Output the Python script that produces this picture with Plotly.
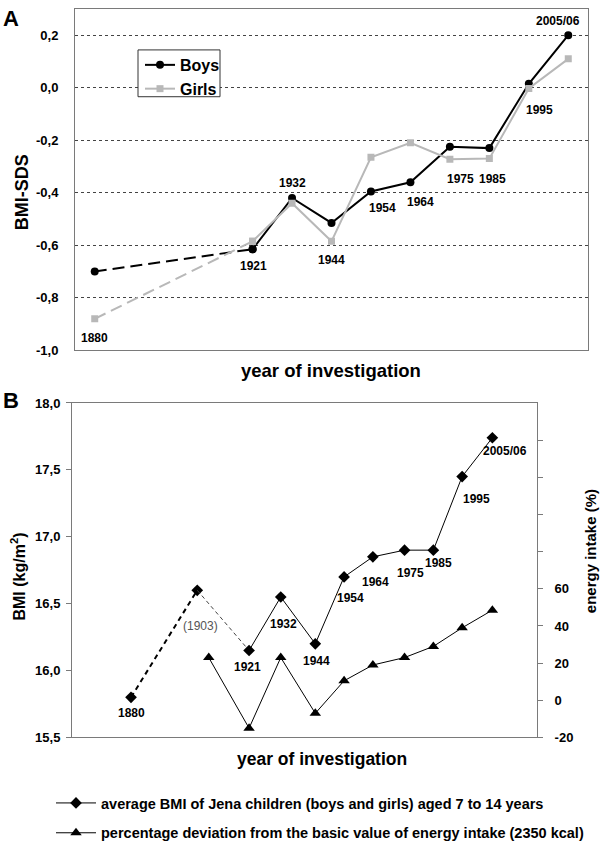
import plotly.graph_objects as go

# ---------------- Panel A data ----------------
years_a = ["1880", "1921", "1932", "1944", "1954", "1964", "1975", "1985", "1995", "2005/06"]
# category slots (gaps between 1880 and 1921 as in the original)
slots_a = ["1880", "gap1", "gap2", "gap3", "1921", "1932", "1944", "1954", "1964",
           "1975", "1985", "1995", "2005/06"]
boys = [-0.70, -0.615, -0.42, -0.515, -0.395, -0.36, -0.225, -0.23, 0.015, 0.20]
girls = [-0.88, -0.585, -0.44, -0.585, -0.265, -0.21, -0.272, -0.27, -0.003, 0.11]
ytick_a = [-1.0, -0.8, -0.6, -0.4, -0.2, 0.0, 0.2]
ytext_a = ["-1,0", "-0,8", "-0,6", "-0,4", "-0,2", "0,0", "0,2"]

# ---------------- Panel B data ----------------
bmi_years = [1880, 1903, 1921, 1932, 1944, 1954, 1964, 1975, 1985, 1995, 2005.5]
bmi_labels = ["1880", "(1903)", "1921", "1932", "1944", "1954", "1964", "1975", "1985", "1995", "2005/06"]
bmi = [15.80, 16.60, 16.15, 16.55, 16.20, 16.70, 16.85, 16.90, 16.90, 17.45, 17.74]
energy_years = [1907, 1921, 1932, 1944, 1954, 1964, 1975, 1985, 1995, 2005.5]
energy = [23, -15, 23, -7, 10.5, 19, 23, 29, 39, 48.5]
ytick_b = [15.5, 16.0, 16.5, 17.0, 17.5, 18.0]
ytext_b = ["15,5", "16,0", "16,5", "17,0", "17,5", "18,0"]
ytick_e = [-20, 0, 20, 40, 60, 80, 100, 120, 140]
ytext_e = ["-20", "0", "20", "40", "60", " ", " ", " ", " "]

FONT = "Liberation Sans, Arial, sans-serif"
W, H = 600, 849
GRAY_AX = "#7a7a7a"
GIRL = "#b8b8b8"

fig = go.Figure()

# Panel A traces
fig.add_trace(go.Scatter(x=years_a[:2], y=boys[:2], mode="lines+markers",
                         line=dict(color="black", width=2, dash="12px,6px"),
                         marker=dict(symbol="circle", size=8, color="black"),
                         showlegend=False, xaxis="x", yaxis="y"))
fig.add_trace(go.Scatter(x=years_a[1:], y=boys[1:], mode="lines+markers", name="Boys",
                         line=dict(color="black", width=2),
                         marker=dict(symbol="circle", size=8, color="black"),
                         legend="legend", xaxis="x", yaxis="y"))
fig.add_trace(go.Scatter(x=years_a[:2], y=girls[:2], mode="lines+markers",
                         line=dict(color=GIRL, width=2, dash="12px,6px"),
                         marker=dict(symbol="square", size=7, color=GIRL),
                         showlegend=False, xaxis="x", yaxis="y"))
fig.add_trace(go.Scatter(x=years_a[1:], y=girls[1:], mode="lines+markers", name="Girls",
                         line=dict(color=GIRL, width=2),
                         marker=dict(symbol="square", size=7, color=GIRL),
                         legend="legend", xaxis="x", yaxis="y"))

# Panel B traces
fig.add_trace(go.Scatter(x=bmi_years[0:2], y=bmi[0:2], mode="lines+markers",
                         line=dict(color="black", width=2, dash="5px,4px"),
                         marker=dict(symbol="diamond", size=9, color="black"),
                         showlegend=False, xaxis="x2", yaxis="y2"))
fig.add_trace(go.Scatter(x=bmi_years[1:3], y=bmi[1:3], mode="lines",
                         line=dict(color="#444", width=1, dash="4px,3px"),
                         showlegend=False, xaxis="x2", yaxis="y2"))
fig.add_trace(go.Scatter(x=bmi_years[2:], y=bmi[2:], mode="lines+markers",
                         name="average BMI of Jena children (boys and girls) aged 7 to 14 years",
                         line=dict(color="black", width=1),
                         marker=dict(symbol="diamond", size=9, color="black"),
                         legend="legend2", legendgroup="g1", xaxis="x2", yaxis="y2"))
fig.add_trace(go.Scatter(x=energy_years, y=energy, mode="lines+markers",
                         name="percentage deviation from the basic value of energy intake (2350 kcal)",
                         line=dict(color="black", width=1),
                         marker=dict(symbol="triangle-up", size=10, color="black"),
                         legend="legend2", legendgroup="g2", xaxis="x2", yaxis="y3"))

ann = []
# Panel A point labels: (series, dx, dy) relative to a point
a_offsets = {"1880": ("g", 0, 19), "1921": ("b", 1, 17), "1932": ("b", 0, -15),
             "1944": ("g", 0, 19), "1954": ("b", 12, 17), "1964": ("b", 10, 20),
             "1975": ("b", 11, 32), "1985": ("b", 3, 31), "1995": ("b", 11, 26),
             "2005/06": ("b", -10, -14)}
for i, yr in enumerate(years_a):
    ser, dx, dy = a_offsets[yr]
    yv = boys[i] if ser == "b" else girls[i]
    ann.append(dict(x=slots_a.index(yr), y=yv, xref="x", yref="y", text=yr, showarrow=False,
                    xshift=dx, yshift=-dy,
                    font=dict(family=FONT, size=12, color="black", weight="bold")))

# Panel B point labels
b_offsets = [(0, 16), (3, 36), (-2, 17), (3, 27), (1, 17), (6, 21), (3, 25),
             (6, 23), (5, 13), (14, 22), (13, 13)]
for i, lab in enumerate(bmi_labels):
    dx, dy = b_offsets[i]
    is1903 = lab.startswith("(")
    ann.append(dict(x=bmi_years[i], y=bmi[i], xref="x2", yref="y2", text=lab, showarrow=False,
                    xshift=dx, yshift=-dy,
                    font=dict(family=FONT, size=12, color="#555" if is1903 else "black",
                              weight="normal" if is1903 else "bold")))

def P(x, y):
    return x / W, 1 - y / H

for txt, (px, py), size, ang in [
    ("A", (11, 12), 22, 0), ("B", (11, 403), 22, 0),
    ("BMI-SDS", (22, 190), 18, -90),
    ("year of investigation", (331, 373), 18.5, 0),
    ("year of investigation", (322, 771), 17.5, 0),
    ("BMI (kg/m<sup>2</sup>)", (18, 584), 16, -90),
    ("energy intake (%)", (590, 558), 15, -90),
]:
    x, y = P(px, py)
    ann.append(dict(x=x, y=y, xref="paper", yref="paper", text=txt, showarrow=False,
                    textangle=ang, xanchor="center", yanchor="middle",
                    font=dict(family=FONT, size=size, color="black", weight="bold")))

tickf = dict(family=FONT, size=13, color="black", weight="bold")

x0, y0 = P(138, 44)
x1, y1 = P(220, 92)
shapes = [dict(type="rect", xref="paper", yref="paper", x0=x0, y0=y1, x1=x1, y1=y0,
               line=dict(color="#333", width=1), fillcolor="white", layer="above")]

fig.update_layout(
    width=W, height=H, margin=dict(l=0, r=0, t=0, b=0),
    paper_bgcolor="white", plot_bgcolor="white",
    font=dict(family=FONT, color="black"),
    xaxis=dict(domain=[75 / W, 588 / W], anchor="y", type="category",
               categoryorder="array", categoryarray=slots_a, range=[-0.5, 12.5],
               showticklabels=False, ticks="", showgrid=False, zeroline=False,
               showline=True, mirror=True, linecolor=GRAY_AX, linewidth=1),
    yaxis=dict(domain=[1 - 352 / H, 1 - 2 / H], anchor="x", range=[-1.0, 0.3],
               tickvals=ytick_a, ticktext=ytext_a, tickfont=tickf, ticks="",
               ticklabelstandoff=13,
               showgrid=True, gridcolor="#444", griddash="dot", gridwidth=1,
               zeroline=False, showline=True, mirror=True, linecolor=GRAY_AX, linewidth=1),
    xaxis2=dict(domain=[72 / W, 537 / W], anchor="y2", range=[1859.5, 2021],
                showticklabels=False, ticks="", showgrid=False, zeroline=False,
                showline=True, mirror=True, linecolor=GRAY_AX, linewidth=1),
    yaxis2=dict(domain=[1 - 749 / H, 1 - 406 / H], anchor="x2", range=[15.5, 18.0],
                tickvals=ytick_b, ticktext=ytext_b, tickfont=tickf,
                ticks="outside", ticklen=5, tickcolor=GRAY_AX, ticklabelstandoff=3,
                showgrid=False, zeroline=False, showline=True, linecolor=GRAY_AX, linewidth=1),
    yaxis3=dict(overlaying="y2", anchor="x2", side="right", range=[-20, 160],
                tickvals=ytick_e, ticktext=ytext_e, tickfont=tickf,
                ticks="outside", ticklen=5, tickcolor=GRAY_AX, ticklabelstandoff=9,
                showgrid=False, zeroline=False, showline=True, linecolor=GRAY_AX, linewidth=1),
    legend=dict(x=140 / W, y=1 - 42 / H, xanchor="left", yanchor="top",
                bgcolor="rgba(0,0,0,0)", borderwidth=0,
                font=dict(family=FONT, size=16, color="black", weight="bold"),
                itemwidth=30, tracegroupgap=0),
    legend2=dict(x=51 / W, y=1 - 800 / H, xanchor="left", yanchor="top",
                 bgcolor="rgba(0,0,0,0)", borderwidth=0, traceorder="grouped",
                 tracegroupgap=8, itemwidth=40,
                 font=dict(family=FONT, size=14.5, color="black", weight="bold")),
    shapes=shapes,
    annotations=ann,
)

fig.write_html("out.html", config={"displayModeBar": False},
               post_script="document.body.style.margin='0';document.body.style.padding='0';")
